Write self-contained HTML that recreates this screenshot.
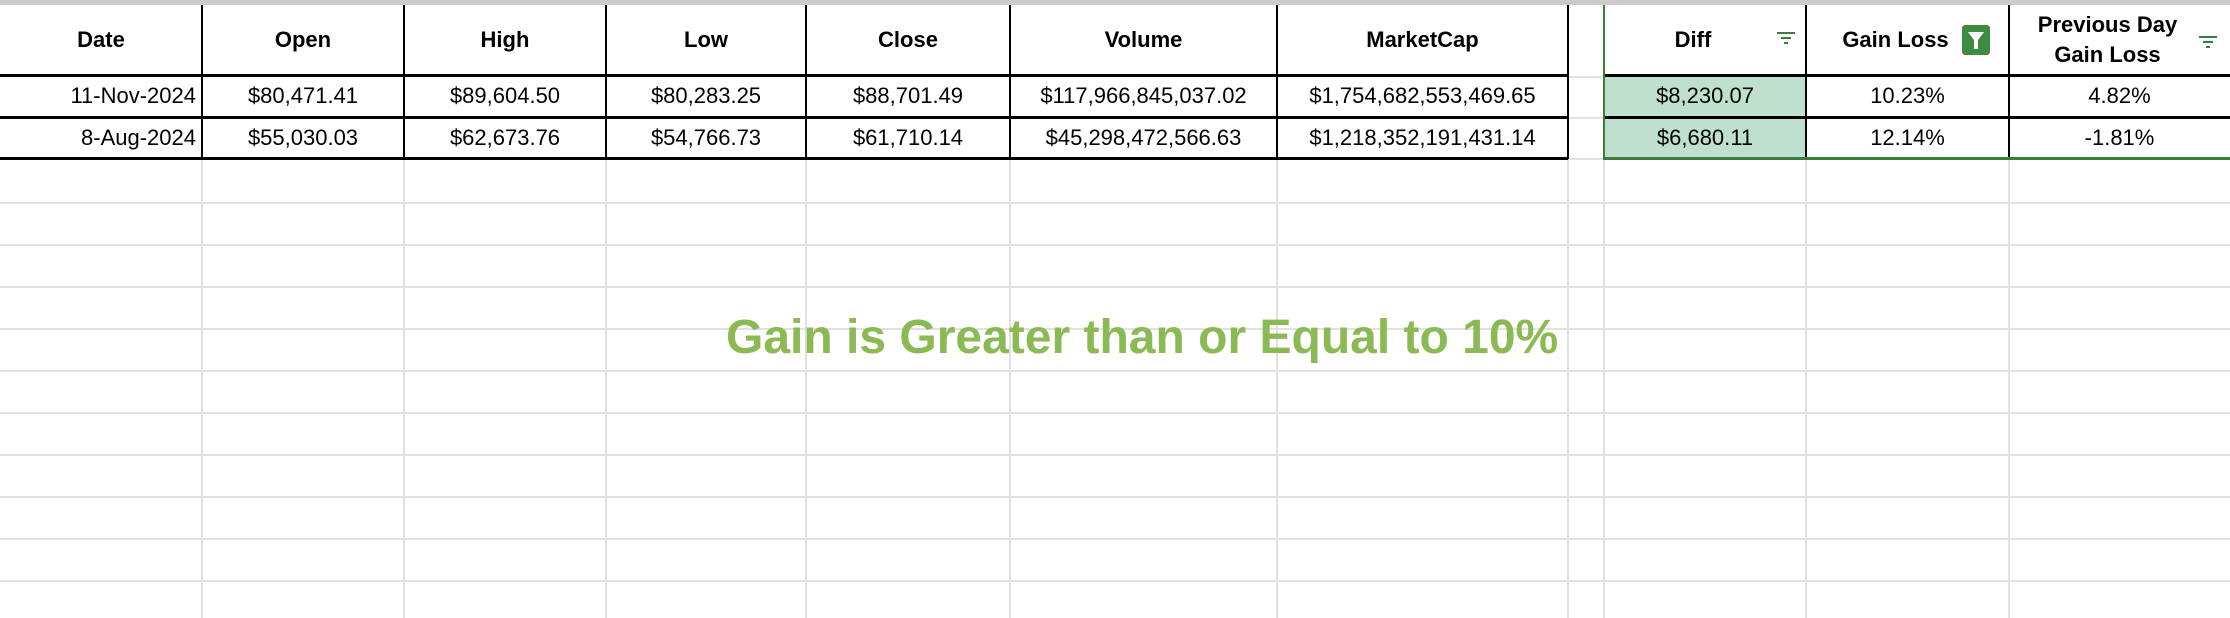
<!DOCTYPE html>
<html><head><meta charset="utf-8">
<style>
body{margin:0;width:2230px;height:618px;overflow:hidden;background:#fff;font-family:"Liberation Sans",Arial,sans-serif;position:relative}
.l{position:absolute;background:#e1e1e1}
.b{position:absolute;background:#000}
.g{position:absolute;background:#3a7d3a}
.f{position:absolute;background:#bfe0cf}
.c{position:absolute;display:flex;align-items:center;justify-content:center;font-size:22px;color:#000;white-space:nowrap;box-sizing:border-box}
.h{font-weight:bold}
.r{justify-content:flex-end;padding-right:6px}
</style></head><body>
<div class="l" style="left:0;top:0;width:2230px;height:5px;background:#cbcbcb"></div>
<div id="grid"></div>
<div id="cells"></div>
<div class="c" style="left:726px;top:308px;width:900px;height:58px;font-size:48px;font-weight:bold;color:#8bb954;justify-content:flex-start">Gain is Greater than or Equal to 10%</div>
<svg style="position:absolute;left:1776px;top:30px" width="20" height="16"><g stroke="#3a7d3a" stroke-width="2"><line x1="1" y1="3" x2="19" y2="3"/><line x1="5" y1="8" x2="15" y2="8"/><line x1="8" y1="13" x2="12" y2="13"/></g></svg>
<svg style="position:absolute;left:1962px;top:25px" width="28" height="30"><rect x="0" y="0" width="28" height="30" rx="3" fill="#3f8a43"/><path d="M6 7 H22 L16 15 V24 H12 V15 Z" fill="#fff"/></svg>
<svg style="position:absolute;left:2198px;top:34px" width="20" height="16"><g stroke="#3a7d3a" stroke-width="2"><line x1="1" y1="3" x2="19" y2="3"/><line x1="5" y1="8" x2="15" y2="8"/><line x1="8" y1="13" x2="12" y2="13"/></g></svg>
<script>
const colX=[0,202,404,606,806,1010,1277,1568,1604,1806,2009,2230];
const headers=["Date","Open","High","Low","Close","Volume","MarketCap","","Diff","Gain Loss","Previous Day<br>Gain Loss"];
const row1=["11-Nov-2024","$80,471.41","$89,604.50","$80,283.25","$88,701.49","$117,966,845,037.02","$1,754,682,553,469.65","","$8,230.07","10.23%","4.82%"];
const row2=["8-Aug-2024","$55,030.03","$62,673.76","$54,766.73","$61,710.14","$45,298,472,566.63","$1,218,352,191,431.14","","$6,680.11","12.14%","-1.81%"];
const rowY=[5,75,117,159];
const grid=document.getElementById('grid');
function add(parent,cls,css,name){const d=document.createElement('div');d.className=cls;d.style.cssText=css;


parent.appendChild(d);return d;}
for(let y=202;y<618;y+=42){add(grid,'l',`left:0;top:${y}px;width:2230px;height:2px`,'grid-row-line');}
for(let i=1;i<colX.length-1;i++){add(grid,'l',`left:${colX[i]-1}px;top:5px;width:2px;height:613px`,'grid-col-line');}
add(grid,'l',`left:1568px;top:76px;width:36px;height:2px`,'gap-line');
add(grid,'l',`left:1568px;top:117px;width:36px;height:2px`,'gap-line');
add(grid,'l',`left:1568px;top:158px;width:36px;height:2px`,'gap-line');
add(grid,'f',`left:1605px;top:76px;width:200px;height:42px`,'diff-highlight');
add(grid,'f',`left:1605px;top:118px;width:200px;height:40px`,'diff-highlight');
for(let i=1;i<=7;i++){add(grid,'b',`left:${colX[i]-1}px;top:5px;width:2px;height:154px`,'table-col-border');}
for(let i=9;i<=10;i++){add(grid,'b',`left:${colX[i]-1}px;top:5px;width:2px;height:154px`,'table-col-border');}
[74,116].forEach(y=>{add(grid,'b',`left:0;top:${y}px;width:1568px;height:3px`,'table-row-border');add(grid,'b',`left:1604px;top:${y}px;width:626px;height:3px`,'table-row-border');});
add(grid,'b',`left:0;top:157px;width:1568px;height:3px`,'table-row-border');
add(grid,'g',`left:1603px;top:5px;width:2px;height:155px`,'filter-range-border');
add(grid,'g',`left:1604px;top:157px;width:626px;height:3px`,'filter-range-border');
const cells=document.getElementById('cells');
[headers,row1,row2].forEach((row,ri)=>{
 row.forEach((t,ci)=>{ if(!t) return;
  let cls='c'+(ri==0?' h':'')+(ri>0&&ci==0?' r':'');
  let w=colX[ci+1]-colX[ci];
  let extra=(ri==0&&ci>=8)?'padding-right:24px;':'';
  if(ri==0&&ci==10) extra='padding-right:24px;line-height:30px;text-align:center;';
  const d=add(cells,cls,`left:${colX[ci]}px;top:${rowY[ri]}px;width:${w}px;height:${rowY[ri+1]-rowY[ri]}px;${extra}`,ri==0?'header-cell':'data-cell');
  d.innerHTML='<span>'+t+'</span>';
 });
});
</script>
</body></html>
